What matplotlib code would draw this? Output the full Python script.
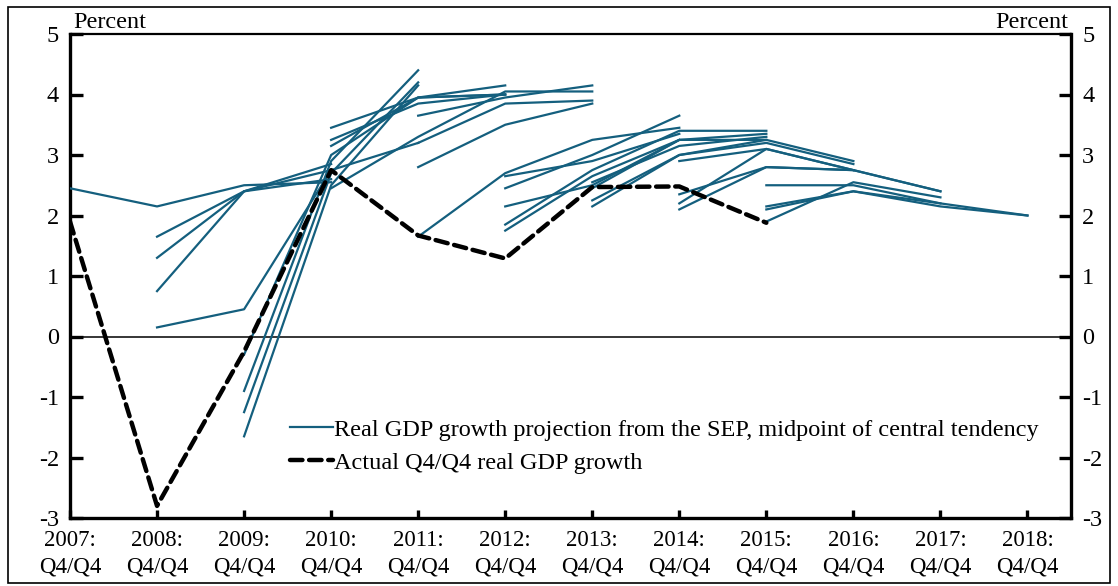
import matplotlib.pyplot as plt
from matplotlib.patches import Rectangle

plt.rcParams['font.family'] = ['Liberation Serif', 'DejaVu Serif']
plt.rcParams['axes.unicode_minus'] = False

# actual Q4/Q4 real GDP growth
actual_years = [2007, 2008, 2009, 2010, 2011, 2012, 2013, 2014, 2015]
actual_growth = [1.9, -2.8, -0.25, 2.75, 1.67, 1.29, 2.47, 2.48, 1.88]

# SEP projections, midpoint of central tendency (first year, values)
proj_start = [2007,
              2008, 2008, 2008, 2008,
              2009, 2009, 2009, 2009,
              2010, 2010, 2010, 2010,
              2011, 2011, 2011, 2011,
              2012, 2012, 2012, 2012, 2012,
              2013, 2013, 2013, 2013,
              2014, 2014, 2014, 2014,
              2015, 2015, 2015, 2015]
proj_values = [
    [2.45, 2.15, 2.5, 2.55],
    [1.65, 2.4, 2.6],
    [0.75, 2.4, 2.85],
    [1.3, 2.4, 2.75],
    [0.15, 0.45, 2.75, 3.2],
    [-0.9, 2.9, 4.4],
    [-1.65, 2.5, 4.15],
    [-1.25, 2.7, 4.2],
    [-0.3, 3.0, 3.95, 4.15],
    [3.15, 3.95, 4.0],
    [3.45, 3.95, 4.0],
    [3.25, 3.85, 4.0],
    [2.45, 3.3, 4.05, 4.05],
    [3.65, 3.95, 4.15],
    [3.2, 3.85, 3.9],
    [2.8, 3.5, 3.85],
    [1.65, 2.7, 3.25, 3.45],
    [2.45, 3.0, 3.65],
    [2.65, 2.9, 3.35],
    [2.15, 2.5, 3.25],
    [1.85, 2.75, 3.4, 3.4],
    [1.75, 2.65, 3.25, 3.35],
    [2.55, 3.15, 3.3],
    [2.45, 3.25, 3.25],
    [2.15, 3.0, 3.25, 2.9],
    [2.25, 3.0, 3.2, 2.85],
    [2.9, 3.1, 2.75],
    [2.2, 3.1, 2.75],
    [2.1, 2.8, 2.75, 2.4],
    [2.35, 2.8, 2.75, 2.4],
    [2.5, 2.5, 2.2],
    [1.9, 2.55, 2.3],
    [2.15, 2.4, 2.2, 2.0],
    [2.1, 2.4, 2.15, 2.0],
]

years = list(range(2007, 2019))
year_labels = [f"{y}:\nQ4/Q4" for y in years]
y_ticks = [-3, -2, -1, 0, 1, 2, 3, 4, 5]

W, H = 1118, 586
fig = plt.figure(figsize=(W / 100, H / 100), dpi=100)
ax = fig.add_axes([70 / W, (H - 518) / H, (1071 - 70) / W, (518 - 34) / H])

teal = '#145f7e'
for i, (start, vals) in enumerate(zip(proj_start, proj_values)):
    xs = list(range(start, start + len(vals)))
    ax.plot(xs, vals, color=teal, lw=1.6, zorder=3,
            label='Real GDP growth projection from the SEP, midpoint of central tendency' if i == 0 else None)

ax.plot(actual_years, actual_growth, color='black', lw=3.2, ls=(0, (2.8, 1.5)),
        dash_capstyle='round', zorder=4, label='Actual Q4/Q4 real GDP growth')

ax.axhline(0, color='black', lw=1.1, zorder=2)

ax.set_xlim(2007, 2018.5)
ax.set_ylim(-3, 5)

ax.set_xticks(years, labels=year_labels)
for lab in ax.get_xticklabels():
    lab.set_linespacing(1.3)
ax.tick_params(axis='x', direction='in', length=6, width=2.4, labelsize=16.5, pad=9)
ax.set_yticks(y_ticks)
ax.tick_params(axis='y', direction='in', length=9, width=2.4, labelsize=17.5, pad=8,
               right=True, labelright=True)

for side in ['left', 'right', 'bottom']:
    ax.spines[side].set_linewidth(2.4)
ax.spines['top'].set_linewidth(1.6)

ax.text(0.003, 1.003, 'Percent', transform=ax.transAxes, ha='left', va='bottom', fontsize=17.5)
ax.text(0.997, 1.003, 'Percent', transform=ax.transAxes, ha='right', va='bottom', fontsize=17.5)

leg = ax.legend(loc='upper left', bbox_to_anchor=(0.22, 0.205), frameon=False,
                fontsize=17.5, handlelength=1.75, handletextpad=0.05, labelspacing=0.45,
                borderaxespad=0, borderpad=0)

fig.patches.append(Rectangle((8 / W, 3 / H), (1110 - 8) / W, (579 - 3) / H,
                             transform=fig.transFigure, fill=False, lw=1.2, ec='black'))

fig.savefig('out.png', dpi=100)
